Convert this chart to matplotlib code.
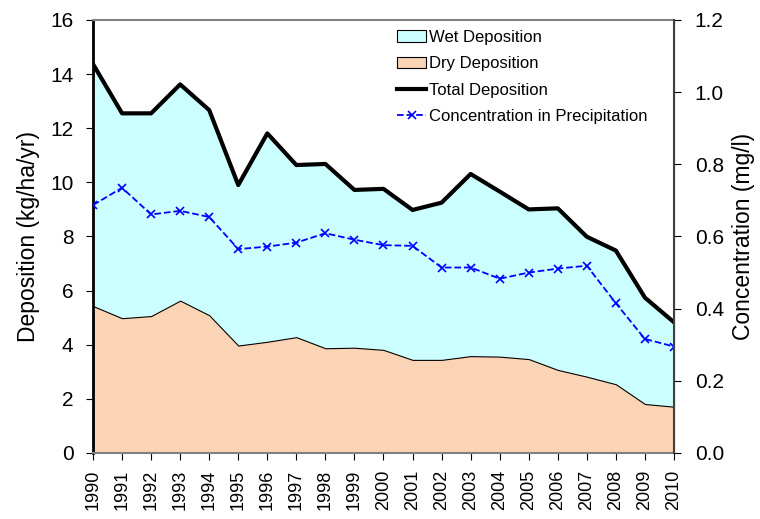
import matplotlib
matplotlib.use("Agg")
import matplotlib.pyplot as plt
import numpy as np

plt.rcParams['font.family'] = ['Liberation Sans', 'DejaVu Sans']

years = list(range(1990, 2011))
dry = [5.43, 4.98, 5.06, 5.63, 5.09, 3.97, 4.11, 4.28, 3.87, 3.89, 3.81,
       3.44, 3.44, 3.58, 3.56, 3.47, 3.07, 2.82, 2.54, 1.81, 1.71]
total = [14.37, 12.55, 12.55, 13.62, 12.67, 9.90, 11.81, 10.64, 10.68, 9.72, 9.76,
         8.98, 9.25, 10.31, 9.66, 9.00, 9.04, 7.99, 7.48, 5.74, 4.83]
conc = [0.687, 0.735, 0.661, 0.671, 0.654, 0.565, 0.572, 0.583, 0.609, 0.591, 0.576,
        0.574, 0.514, 0.514, 0.483, 0.500, 0.511, 0.519, 0.415, 0.316, 0.295]

x = np.array(years)
dry = np.array(dry)
total = np.array(total)

fig = plt.figure(figsize=(7.6, 5.19), dpi=100)
ax = fig.add_axes([0.1224, 0.1272, 0.7644, 0.8343])

# stacked areas: dry at the bottom, wet between dry and total
wet_fill = ax.fill_between(x, dry, total, facecolor="#ccffff", edgecolor="none",
                           label="Wet Deposition")
dry_fill = ax.fill_between(x, 0, dry, facecolor="#fad4b4", edgecolor="black",
                           linewidth=0.8, label="Dry Deposition")
tot_line, = ax.plot(x, total, color="black", linewidth=3, label="Total Deposition")

ax.set_xlim(1990, 2010)
ax.set_ylim(0, 16)
ax.set_yticks(range(0, 17, 2))
ax.set_xticks(years)
ax.set_xticklabels([str(y) for y in years], rotation=90, fontsize=13)
ax.tick_params(axis="y", labelsize=15, direction="out", length=5, pad=9)
ax.tick_params(axis="x", direction="out", length=5, pad=7)
ax.set_ylabel("Deposition (kg/ha/yr)", fontsize=16.5, labelpad=7)

for s in ["top", "bottom"]:
    ax.spines[s].set_color("#808080")
    ax.spines[s].set_linewidth(1.5)
ax.spines["left"].set_linewidth(2)

ax2 = ax.twinx()
conc_line, = ax2.plot(x, conc, color="blue", linestyle="--", linewidth=1.3,
                      marker="x", markersize=6, markeredgewidth=1.2,
                      label="Concentration in Precipitation")
ax2.set_ylim(0, 1.2)
ax2.set_yticks(np.arange(0, 1.21, 0.2))
ax2.set_yticklabels([f"{v:.1f}" for v in np.arange(0, 1.21, 0.2)])
ax2.tick_params(axis="y", labelsize=15, direction="out", length=5, pad=10)
ax2.set_ylabel("Concentration (mg/l)", fontsize=16.5, labelpad=6)
ax2.spines["right"].set_color("#404040")
ax2.spines["right"].set_linewidth(1.5)
for s in ["top", "bottom", "left"]:
    ax2.spines[s].set_visible(False)

leg = ax.legend(handles=[wet_fill, dry_fill, tot_line, conc_line],
                loc="upper left", bbox_to_anchor=(0.506, 1.0), frameon=False,
                fontsize=12, handlelength=1.75, handletextpad=0.15,
                labelspacing=0.68, borderaxespad=0.2)
leg.legend_handles[0].set_edgecolor("black")
leg.legend_handles[0].set_linewidth(0.8)

fig.savefig("out.png", dpi=100)
